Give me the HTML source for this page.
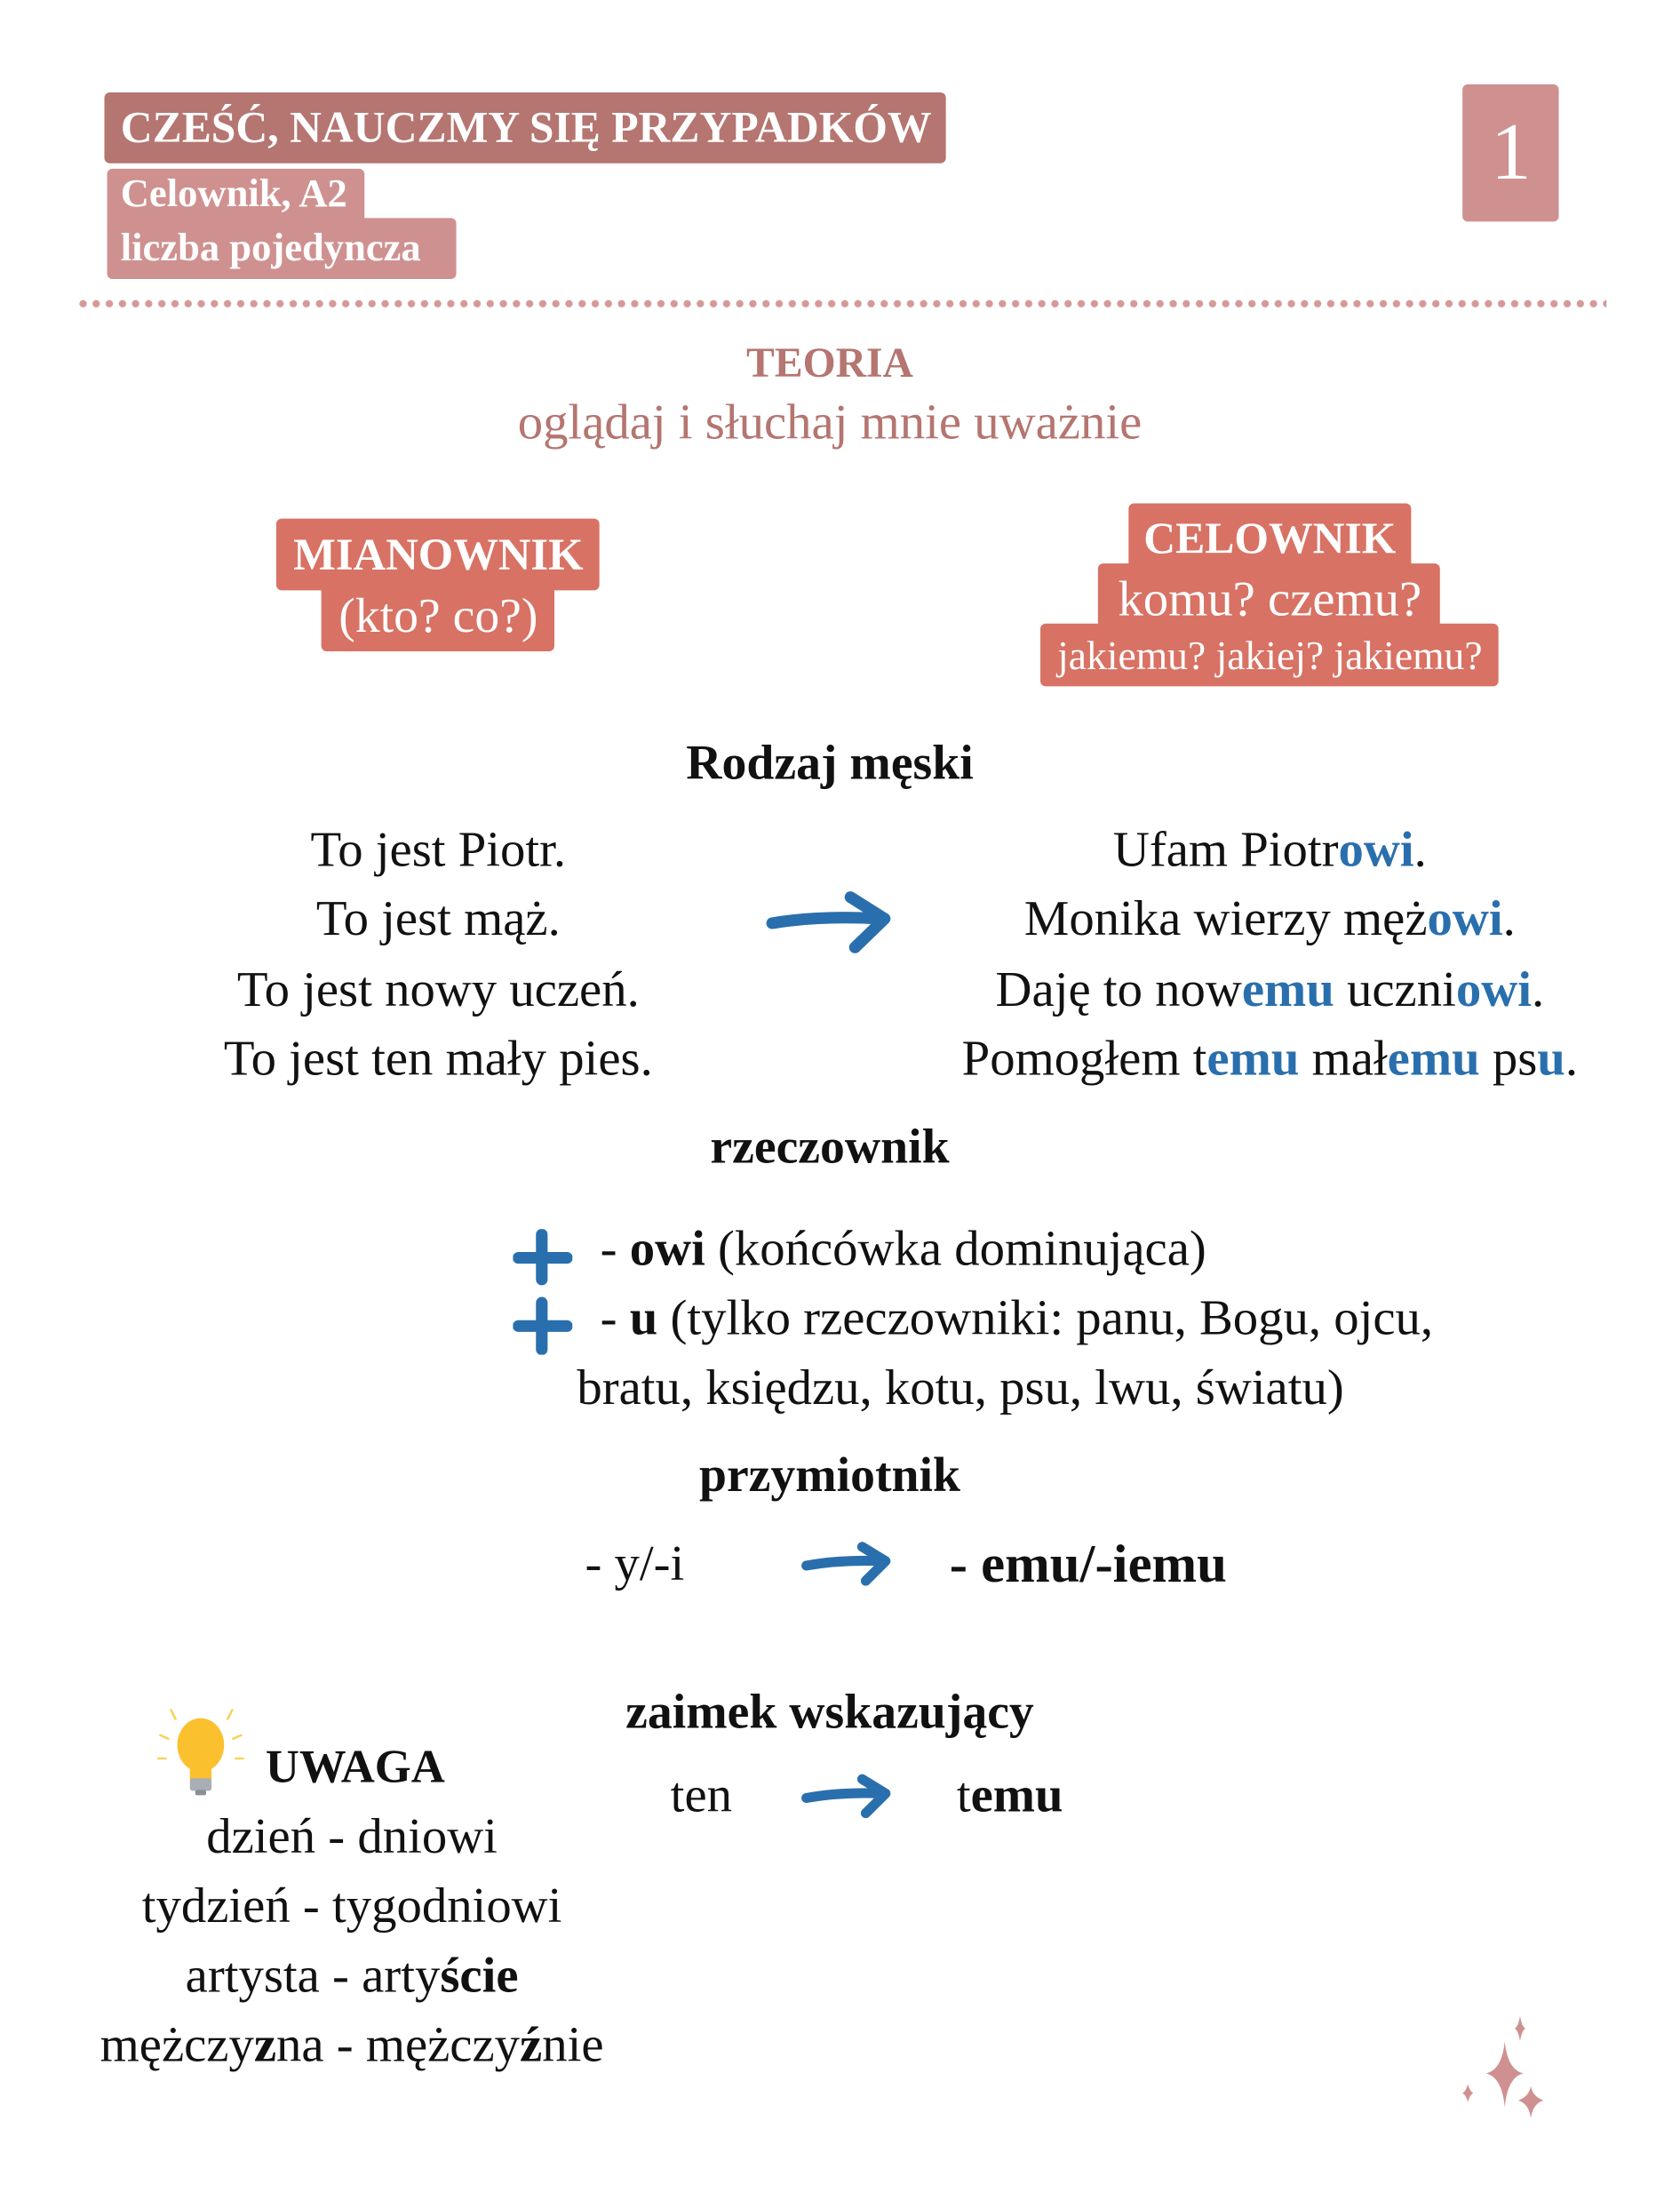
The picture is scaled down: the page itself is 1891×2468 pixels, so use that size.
<!DOCTYPE html>
<html><head><meta charset="utf-8"><style>
body{margin:0;width:1891px;height:2444px;background:#fff;position:relative;overflow:hidden;font-family:"Liberation Serif",serif;}
#wrap{position:absolute;left:0;top:0;width:1891px;height:2444px;transform:scale(1.013,1.0097);transform-origin:0 0;}
.a{position:absolute;white-space:nowrap;}
.c{position:absolute;white-space:nowrap;transform:translateX(-50%);text-align:center;}
.box{position:absolute;border-radius:6px;}
.w{color:#fff;font-weight:bold;}
b{font-weight:bold}
.bl{color:#2a6fad;font-weight:bold}
.t{font-size:56px;line-height:60px;color:#111;}
.h{font-size:55px;line-height:60px;font-weight:bold;color:#111;}
</style></head><body><div id="wrap">
<!-- header -->
<div class="box" style="left:116px;top:103px;width:935px;height:79px;background:#b57570;"></div>
<div class="a w" style="left:134px;top:112px;font-size:49px;line-height:60px;">CZEŚĆ, NAUCZMY SIĘ PRZYPADKÓW</div>
<div class="box" style="left:119px;top:188px;width:286px;height:70px;background:#cf9190;"></div>
<div class="box" style="left:119px;top:243px;width:388px;height:68px;background:#cf9190;"></div>
<div class="a w" style="left:134px;top:190px;font-size:44px;line-height:52px;">Celownik, A2</div>
<div class="a w" style="left:134px;top:250px;font-size:44px;line-height:52px;">liczba pojedyncza</div>
<div class="box" style="left:1625px;top:94px;width:107px;height:153px;background:#cf9190;"></div>
<div class="c" style="left:1679px;top:120px;font-size:90px;line-height:100px;color:#fff;">1</div>
<div class="a" style="left:85px;top:334px;width:1700px;height:9px;background:radial-gradient(circle,#d49a98 3.8px,transparent 4.3px) 0 0/14.6px 9px repeat-x;"></div>

<div class="c" style="left:922px;top:375px;font-size:47px;line-height:60px;font-weight:bold;color:#b57570;">TEORIA</div>
<div class="c" style="left:922px;top:441px;font-size:56px;line-height:60px;color:#b57570;">oglądaj i słuchaj mnie uważnie</div>

<!-- case boxes -->
<div class="box" style="left:307px;top:578px;width:359px;height:80px;background:#d87264;"></div>
<div class="box" style="left:357px;top:650px;width:259px;height:76px;background:#d87264;"></div>
<div class="c w" style="left:487px;top:588px;font-size:50px;line-height:60px;">MIANOWNIK</div>
<div class="c" style="left:487px;top:656px;font-size:55px;line-height:60px;color:#fff;">(kto? co?)</div>

<div class="box" style="left:1254px;top:561px;width:314px;height:75px;background:#d87264;"></div>
<div class="box" style="left:1220px;top:628px;width:380px;height:72px;background:#d87264;"></div>
<div class="box" style="left:1156px;top:695px;width:509px;height:70px;background:#d87264;"></div>
<div class="c w" style="left:1411px;top:570px;font-size:49px;line-height:60px;">CELOWNIK</div>
<div class="c" style="left:1411px;top:638px;font-size:56px;line-height:60px;color:#fff;">komu? czemu?</div>
<div class="c" style="left:1411px;top:703px;font-size:45px;line-height:56px;color:#fff;">jakiemu? jakiej? jakiemu?</div>

<div class="c h" style="left:922px;top:820px;">Rodzaj męski</div>

<div class="c t" style="left:487px;top:917px;">To jest Piotr.</div>
<div class="c t" style="left:487px;top:994px;">To jest mąż.</div>
<div class="c t" style="left:487px;top:1073px;">To jest nowy uczeń.</div>
<div class="c t" style="left:487px;top:1150px;">To jest ten mały pies.</div>

<div class="c t" style="left:1411px;top:917px;">Ufam Piotr<span class="bl">owi</span>.</div>
<div class="c t" style="left:1411px;top:994px;">Monika wierzy męż<span class="bl">owi</span>.</div>
<div class="c t" style="left:1411px;top:1073px;">Daję to now<span class="bl">emu</span> uczni<span class="bl">owi</span>.</div>
<div class="c t" style="left:1411px;top:1150px;">Pomogłem t<span class="bl">emu</span> mał<span class="bl">emu</span> ps<span class="bl">u</span>.</div>

<svg class="a" style="left:850px;top:990px;" width="145" height="75" viewBox="0 0 145 75"><path d="M8 39 Q60 30 130 34" stroke="#2a6fad" stroke-width="13" fill="none" stroke-linecap="round"/><path d="M95 10 L133 34 L100 66" stroke="#2a6fad" stroke-width="13" fill="none" stroke-linecap="round" stroke-linejoin="round"/></svg>

<div class="c h" style="left:922px;top:1248px;">rzeczownik</div>

<svg class="a" style="left:570px;top:1370px;" width="66" height="140" viewBox="0 0 66 140"><g stroke="#2a6fad" stroke-width="13" stroke-linecap="round"><path d="M32 6 V56 M6 32 H60"/><path d="M32 82 V134 M6 108 H60"/></g></svg>
<div class="a t" style="left:667px;top:1362px;">- <b>owi</b> (końcówka dominująca)</div>
<div class="a t" style="left:667px;top:1439px;">- <b>u</b> (tylko rzeczowniki: panu, Bogu, ojcu,</div>
<div class="a t" style="left:641px;top:1517px;">bratu, księdzu, kotu, psu, lwu, światu)</div>

<div class="c h" style="left:922px;top:1614px;">przymiotnik</div>
<div class="a t" style="left:650px;top:1713px;">- y/-i</div>
<svg class="a" style="left:890px;top:1718px;" width="105" height="50" viewBox="0 0 105 50"><path d="M6 27 Q45 20 92 22" stroke="#2a6fad" stroke-width="11" fill="none" stroke-linecap="round"/><path d="M68 6 L94 22 L72 44" stroke="#2a6fad" stroke-width="11" fill="none" stroke-linecap="round" stroke-linejoin="round"/></svg>
<div class="a t" style="left:1055px;top:1713px;font-size:60px;"><b>- emu/-iemu</b></div>

<div class="c h" style="left:922px;top:1878px;">zaimek wskazujący</div>
<div class="a t" style="left:745px;top:1971px;">ten</div>
<svg class="a" style="left:890px;top:1977px;" width="105" height="50" viewBox="0 0 105 50"><path d="M6 27 Q45 20 92 22" stroke="#2a6fad" stroke-width="11" fill="none" stroke-linecap="round"/><path d="M68 6 L94 22 L72 44" stroke="#2a6fad" stroke-width="11" fill="none" stroke-linecap="round" stroke-linejoin="round"/></svg>
<div class="a t" style="left:1063px;top:1971px;">t<b>emu</b></div>

<!-- bulb -->
<svg class="a" style="left:170px;top:1900px;" width="105" height="105" viewBox="0 0 105 105"><g stroke="#f7d35a" stroke-width="2.5" stroke-linecap="round"><path d="M20 6 L25 16 M88 6 L83 16 M8 34 L17 38 M98 34 L89 38 M6 60 L14 60 M100 60 L92 60"/></g><ellipse cx="53" cy="45" rx="26" ry="30" fill="#fbc02d"/><rect x="41" y="70" width="24" height="14" fill="#fbc02d"/><rect x="41" y="82" width="24" height="14" rx="3" fill="#a9adb5"/><rect x="47" y="95" width="12" height="6" rx="2" fill="#8a8e96"/></svg>
<div class="a h" style="left:295px;top:1940px;font-size:52px;">UWAGA</div>
<div class="c t" style="left:391px;top:2017px;">dzień - dniowi</div>
<div class="c t" style="left:391px;top:2094px;">tydzień - tygodniowi</div>
<div class="c t" style="left:391px;top:2172px;">artysta - arty<b>ście</b></div>
<div class="c t" style="left:391px;top:2249px;">mężczy<b>z</b>na - mężczy<b>ź</b>nie</div>

<!-- sparkles -->
<svg class="a" style="left:1615px;top:2245px;" width="110" height="130" viewBox="0 0 110 130"><g fill="#cf9190"><path d="M74 2 Q76 14 80 16 Q76 18 74 30 Q72 18 68 16 Q72 14 74 2Z"/><path d="M57 30 Q60 62 78 66 Q60 70 57 104 Q54 70 36 66 Q54 62 57 30Z"/><path d="M16 78 Q18 86 22 88 Q18 90 16 98 Q14 90 10 88 Q14 86 16 78Z"/><path d="M86 80 Q88 92 100 96 Q88 100 86 116 Q84 100 72 96 Q84 92 86 80Z"/></g></svg>
</div></body></html>
